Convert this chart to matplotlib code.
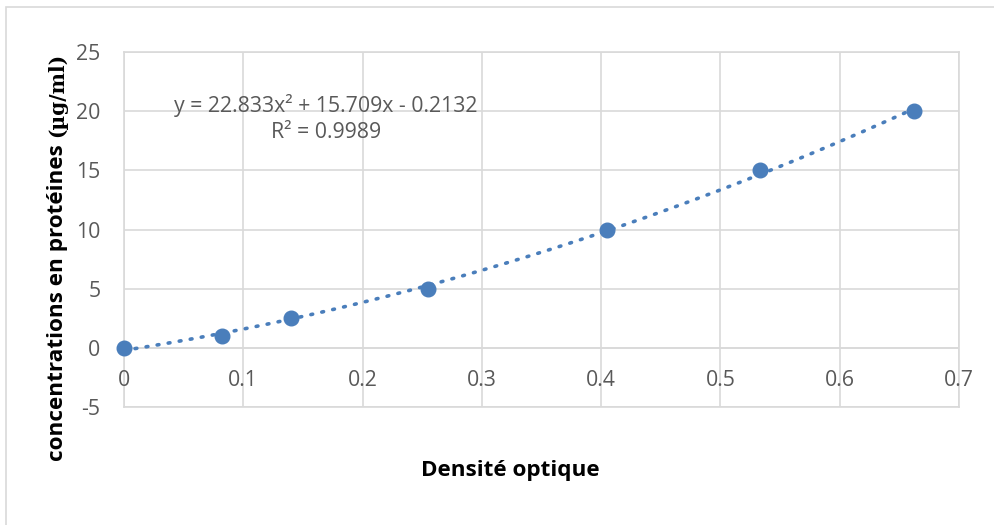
import numpy as np
import matplotlib
matplotlib.use("Agg")
import matplotlib.pyplot as plt
from matplotlib.patches import Rectangle

# Data
densite = [0.0, 0.082, 0.140, 0.255, 0.405, 0.533, 0.662]
concentration = [0, 1, 2.5, 5, 10, 15, 20]
coefs = [22.833, 15.709, -0.2132]
r2 = 0.9989
xticks = [0, 0.1, 0.2, 0.3, 0.4, 0.5, 0.6, 0.7]
xticklabels = ["0", "0.1", "0.2", "0.3", "0.4", "0.5", "0.6", "0.7"]
yticks = [-5, 0, 5, 10, 15, 20, 25]
xlabel = "Densité optique"
ylabel_a = "concentrations en protéines "
ylabel_b = "(µg/ml)"

FONT = "Open Sans"
GRAY = "#595959"
GRID = "#d9d9d9"
BLUE = "#4a7ebb"
FS = 15.3

W, H = 995, 525
fig = plt.figure(figsize=(W / 100, H / 100), dpi=100)
fig.patch.set_facecolor("white")

# outer chart border (top and left visible)
fig.patches.append(Rectangle((6 / W, -0.1), 1.2, (H - 7) / H + 0.1,
                             transform=fig.transFigure, fill=False,
                             edgecolor=GRID, linewidth=1.2))

ax = fig.add_axes([124 / W, (H - 407) / H, 835 / W, 355 / H])
ax.set_xlim(0, 0.7)
ax.set_ylim(-5, 25)
ax.set_xticks(xticks)
ax.set_yticks(yticks)
ax.grid(True, color=GRID, linewidth=1.2)
ax.set_axisbelow(True)
for s in ax.spines.values():
    s.set_color(GRID)
    s.set_linewidth(1.2)
ax.tick_params(axis="both", length=0)
ax.tick_params(axis="x", labelbottom=False)
ax.set_yticklabels([str(v) for v in yticks], fontfamily=FONT, fontsize=FS, color=GRAY)
ax.tick_params(axis="y", pad=17)

ax.axhline(0, color=GRID, linewidth=1.2, zorder=1)

# x tick labels below the y=0 line
for xv, lab in zip(xticks, xticklabels):
    ax.annotate(lab, xy=(xv, 0), xycoords="data", xytext=(0, -16),
                textcoords="offset points", ha="center", va="top",
                fontfamily=FONT, fontsize=FS, color=GRAY, zorder=6,
                annotation_clip=False)

# trendline
xs = np.linspace(0, densite[-1], 200)
ys = np.polyval(coefs, xs)
ax.plot(xs, ys, color=BLUE, linewidth=2.6, linestyle=(0, (0.5, 2.6)),
        dash_capstyle="round", zorder=3)
ax.plot(densite, concentration, "o", color=BLUE, markersize=10.5, zorder=4,
        clip_on=False)

eq = "y = {:.3f}x² + {:.3f}x - {:.4f}\nR² = {:.4f}".format(coefs[0], coefs[1], -coefs[2], r2)
ax.text(0.1695, 19.35, eq, fontfamily=FONT, fontsize=FS, color=GRAY,
        ha="center", va="center", multialignment="center", linespacing=1.3)

fig.text(510 / W, (H - 476) / H, xlabel, fontfamily=FONT, fontsize=16.2,
         fontweight="bold", ha="center", va="baseline", color="black")

t1 = fig.text(63 / W, 64 / H, ylabel_a, fontfamily=FONT, fontsize=16.2,
              fontweight="bold", rotation=90, rotation_mode="anchor",
              ha="left", va="baseline", color="black")
fig.canvas.draw()
bb = t1.get_window_extent(renderer=fig.canvas.get_renderer())
fig.text(63 / W, (bb.y1 + 1) / H, ylabel_b, fontfamily="DejaVu Serif", fontsize=14.5,
         fontweight="bold", rotation=90, rotation_mode="anchor",
         ha="left", va="baseline", color="black")

fig.savefig("out.png", dpi=100)
